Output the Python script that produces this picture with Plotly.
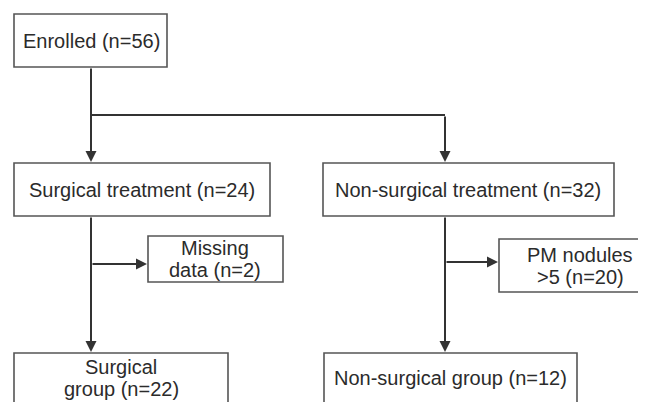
import plotly.graph_objects as go

# Flowchart nodes
node_labels = [
    "Enrolled (n=56)",
    "Surgical treatment (n=24)",
    "Non-surgical treatment (n=32)",
    "Missing<br>data (n=2)",
    "PM nodules<br>>5 (n=20)",
    "Surgical<br>group (n=22)",
    "Non-surgical group (n=12)",
]
node_x0 = [14, 14, 323, 148, 499, 14, 324]
node_x1 = [167, 270, 614, 283, 660, 228, 577]
node_y0 = [14, 163, 163, 236, 239, 353, 353]
node_y1 = [67, 216, 216, 282, 292, 420, 420]
text_x = [91, 142, 468, 215, 580, 121, 450]
text_y = [41, 190, 190, 259, 266, 378, 378]

# Connectors: (x_tail, y_tail, x_head, y_head, has_arrow)
edge_x0 = [91, 91, 445, 91, 91, 445, 445]
edge_y0 = [67, 115, 115, 216, 264, 216, 262]
edge_x1 = [91, 445, 445, 91, 147, 445, 498]
edge_y1 = [162, 115, 162, 352, 264, 352, 262]
edge_arrow = [True, False, True, True, True, True, True]

LINE = "#333333"
BOX = "#555555"
TEXT = "#2b2b2b"
LINE_GAP = 22

fig = go.Figure()
shapes = []
annotations = []

for x0, x1, y0, y1 in zip(node_x0, node_x1, node_y0, node_y1):
    shapes.append(dict(type="rect", xref="x", yref="y", x0=x0, x1=x1, y0=y0, y1=y1,
                       line=dict(color=BOX, width=1.6), fillcolor="white", layer="below"))

for lab, tx, ty in zip(node_labels, text_x, text_y):
    lines = lab.split("<br>")
    n = len(lines)
    for i, ln in enumerate(lines):
        yy = ty + (i - (n - 1) / 2) * LINE_GAP
        annotations.append(dict(x=tx, y=yy, xref="x", yref="y", text=ln, showarrow=False,
                                font=dict(family="Liberation Sans, Arial, sans-serif", size=20, color=TEXT),
                                align="center"))

for x0, y0, x1, y1, arr in zip(edge_x0, edge_y0, edge_x1, edge_y1, edge_arrow):
    if arr:
        annotations.append(dict(x=x1, y=y1, ax=x0, ay=y0, xref="x", yref="y", axref="x", ayref="y",
                                text="", showarrow=True, arrowhead=2, arrowsize=1.1,
                                arrowwidth=2, arrowcolor=LINE, standoff=0))
    else:
        shapes.append(dict(type="line", xref="x", yref="y", x0=x0, x1=x1, y0=y0, y1=y1,
                           line=dict(color=LINE, width=2)))

fig.update_layout(
    width=646, height=402,
    margin=dict(l=0, r=0, t=0, b=0),
    paper_bgcolor="white", plot_bgcolor="white",
    shapes=shapes, annotations=annotations,
    showlegend=False,
    xaxis=dict(range=[8, 654], visible=False, fixedrange=True),
    yaxis=dict(range=[410, 8], visible=False, fixedrange=True),
)

fig.write_html("out.html")
